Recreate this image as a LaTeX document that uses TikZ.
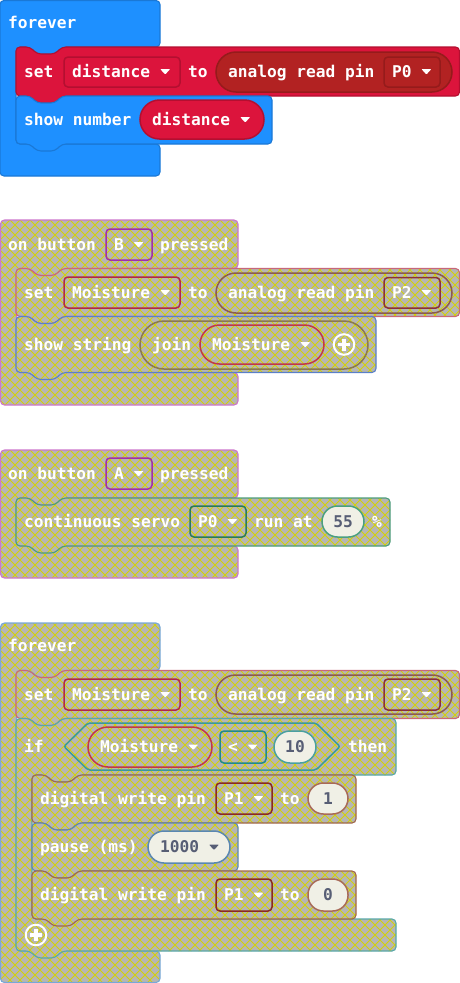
\documentclass[tikz,border=0pt]{standalone}
\usepackage{fontspec}
\newfontfamily\blockfont{DejaVu Sans Mono}

% block palette
\definecolor{evBlue}{HTML}{1E90FF}
\definecolor{evBlueEdge}{HTML}{1A78D6}
\definecolor{varRed}{HTML}{DC143C}
\definecolor{varRedEdge}{HTML}{B40F30}
\definecolor{pinRed}{HTML}{B22222}
\definecolor{pinRedEdge}{HTML}{951B1B}
% disabled look
\definecolor{disGray}{HTML}{B6B6B4}
\definecolor{disLine}{HTML}{D4D00A}
\definecolor{hatEdge}{HTML}{CC77CC}
\definecolor{setEdge}{HTML}{C86878}
\definecolor{strEdge}{HTML}{5B80C8}
\definecolor{servoEdge}{HTML}{4C9C7C}
\definecolor{loopEdge}{HTML}{78A8D8}
\definecolor{ifEdge}{HTML}{58A8A8}
\definecolor{dwEdge}{HTML}{A0684C}
\definecolor{pauseEdge}{HTML}{5C88B0}
\definecolor{ddPurple}{HTML}{A030A8}
\definecolor{ddRed}{HTML}{B02848}
\definecolor{repBrown}{HTML}{8C5A50}
\definecolor{ddDarkRed}{HTML}{8A3038}
\definecolor{joinEdge}{HTML}{8A7850}
\definecolor{varEdge}{HTML}{C03848}
\definecolor{ddGreen}{HTML}{2A7A5A}
\definecolor{numTeal}{HTML}{4AA080}
\definecolor{hexEdge}{HTML}{3A9A9A}
\definecolor{ddTeal}{HTML}{208A8A}
\definecolor{numTeal2}{HTML}{4AA0A0}
\definecolor{ddBrown}{HTML}{8A2A22}
\definecolor{numBrown}{HTML}{A86A58}
\definecolor{numBlue}{HTML}{5A88B0}
\definecolor{ovalFill}{HTML}{F0F0E6}
\definecolor{numText}{HTML}{575E75}

% diagonal cross-hatch on a 10pt grid, clipped to the current path
\newcommand\hatchfill{%
  \pgfpointanchor{path picture bounding box}{south west}\pgfgetlastxy{\hxa}{\hya}%
  \pgfpointanchor{path picture bounding box}{north east}\pgfgetlastxy{\hxb}{\hyb}%
  \pgfsetstrokecolor{disLine}\pgfsetlinewidth{0.8pt}%
  \pgfmathtruncatemacro\ka{floor((\hxa-\hyb)/10)-1}%
  \pgfmathtruncatemacro\kb{ceil((\hxb-\hya)/10)+1}%
  \foreach \k in {\ka,...,\kb}{%
    \pgfpathmoveto{\pgfpoint{10pt*\k+\hya}{\hya}}%
    \pgfpathlineto{\pgfpoint{10pt*\k+\hyb}{\hyb}}%
    \pgfusepath{stroke}}%
  \pgfmathtruncatemacro\ka{floor((\hxa+\hya)/10)-1}%
  \pgfmathtruncatemacro\kb{ceil((\hxb+\hyb)/10)+1}%
  \foreach \k in {\ka,...,\kb}{%
    \pgfpathmoveto{\pgfpoint{10pt*\k-\hya}{\hya}}%
    \pgfpathlineto{\pgfpoint{10pt*\k-\hyb}{\hyb}}%
    \pgfusepath{stroke}}%
}

\tikzset{
  lbl/.style={anchor=mid west, inner sep=0pt, text=white, yshift=-3.5pt,
    font=\blockfont\bfseries\fontsize{16.2}{18}\selectfont},
  num/.style={anchor=mid, inner sep=0pt, text=numText, yshift=-3.5pt,
    font=\blockfont\bfseries\fontsize{16.2}{18}\selectfont},
  blk/.style={rounded corners=4pt, line width=1.1pt},
  dis/.style={fill=disGray, path picture={\hatchfill}},
  fld/.style={line width=1.5pt},
}

% statement block: notch on top, tab below
\newcommand\stmt[5]{%
  \path[blk,#1] (#2,#3) -- (#2+14,#3) -- (#2+21,#3+7) -- (#2+39,#3+7) -- (#2+46,#3)
    -- (#4,#3) -- (#4,#5) -- (#2+46,#5) -- (#2+39,#5+7) -- (#2+21,#5+7)
    -- (#2+14,#5) -- (#2,#5) -- cycle;}
% event/loop C-block without notch or tab
\newcommand\hatC[8]{%
  \path[blk,#1] (#2,#3) -- (#2+#4,#3) -- (#2+#4,#5) -- (#2+62,#5) -- (#2+55,#5+7)
    -- (#2+37,#5+7) -- (#2+30,#5) -- (#2+16,#5) -- (#2+16,#6) -- (#2+#7,#6)
    -- (#2+#7,#8) -- (#2,#8) -- cycle;}
% statement C-block (if): notch on top, tab inside and below
\newcommand\stmtC[8]{%
  \path[blk,#1] (#2,#3) -- (#2+14,#3) -- (#2+21,#3+7) -- (#2+39,#3+7) -- (#2+46,#3)
    -- (#2+#4,#3) -- (#2+#4,#5) -- (#2+62,#5) -- (#2+55,#5+7)
    -- (#2+37,#5+7) -- (#2+30,#5) -- (#2+16,#5) -- (#2+16,#6) -- (#2+#7,#6)
    -- (#2+#7,#8) -- (#2+46,#8) -- (#2+39,#8+7) -- (#2+21,#8+7) -- (#2+14,#8)
    -- (#2,#8) -- cycle;}
% dropdown box and oval field
\newcommand\ddbox[5]{\path[fld,rounded corners=4pt,#1] (#2,#3) rectangle (#4,#5);}
\newcommand\ovalfield[6]{\path[fld,rounded corners=#6pt,#1] (#2,#3) rectangle (#4,#5);}
% dropdown arrow
\newcommand\ddarrow[3]{\fill[#3,rounded corners=0.8pt] (#1-5,#2-2.5) -- (#1+5,#2-2.5) -- (#1,#2+3) -- cycle;}
% add-item button
\newcommand\plusicon[2]{%
  \draw[white,line width=2pt] (#1,#2) circle (10.3);
  \draw[white,line width=3.6pt] (#1-6,#2) -- (#1+6,#2) (#1,#2-6) -- (#1,#2+6);}

\begin{document}
\begin{tikzpicture}[x=1pt,y=-1pt]
\useasboundingbox (0,0) rectangle (460,983);

% ---------- forever: show distance ----------
\hatC{fill=evBlue,draw=evBlueEdge}{0}{0.5}{160}{47}{144}{160}{176}
\stmt{fill=varRed,draw=varRedEdge}{16}{47}{459.5}{96}
\stmt{fill=evBlue,draw=evBlueEdge}{16}{96}{272}{144}
\node[lbl] (f1) at (8,23) {forever};
\node[lbl] (set1) at (24,71.5) {set};
\ddbox{fill=varRed,draw=varRedEdge}{64}{57}{180}{87}
\node[lbl] (var1) at (72,71.5) {distance};
\ddarrow{165.2}{71.5}{white}
\node[lbl] (to1) at (188,71.5) {to};
\ovalfield{fill=pinRed,draw=pinRedEdge}{216}{52}{452}{92}{20}
\node[lbl] (ar1) at (228,71.5) {analog read pin};
\ddbox{fill=pinRed,draw=pinRedEdge}{384}{57}{440}{87}
\node[lbl] (pin1) at (392,71.5) {P0};
\ddarrow{426.4}{71.5}{white}
\node[lbl] (sn1) at (24,119.5) {show number};
\ovalfield{fill=varRed,draw=varRedEdge}{140}{100}{264}{139}{19.5}
\node[lbl] (var2) at (152,119.5) {distance};
\ddarrow{245.2}{119.5}{white}

% ---------- on button B pressed ----------
\hatC{dis,draw=hatEdge}{0.5}{220}{237.5}{268.5}{372.5}{237.5}{405}
\stmt{dis,draw=setEdge}{16}{268.5}{459.5}{316.5}
\stmt{dis,draw=strEdge}{16}{316.5}{376}{372.5}
\node[lbl] (ob1) at (8,244.5) {on button};
\ddbox{dis,draw=ddPurple}{106}{229}{152}{260}
\node[lbl] (btnB) at (114,244.5) {B};
\ddarrow{138.6}{244.5}{white}
\node[lbl] (pr1) at (160,244.5) {pressed};
\node[lbl] (set2) at (24,292.5) {set};
\ddbox{dis,draw=ddRed}{64}{277}{180}{308}
\node[lbl] (var3) at (72,292.5) {Moisture};
\ddarrow{165.2}{292.5}{white}
\node[lbl] (to2) at (188,292.5) {to};
\ovalfield{dis,draw=repBrown}{216}{273}{452}{313}{20}
\node[lbl] (ar2) at (228,292.5) {analog read pin};
\ddbox{dis,draw=ddDarkRed}{384}{277.5}{440}{308}
\node[lbl] (pin2) at (392,292.5) {P2};
\ddarrow{426.4}{292.5}{white}
\node[lbl] (ss1) at (24,344.5) {show string};
\ovalfield{dis,draw=joinEdge}{140}{321}{368}{369}{24}
\node[lbl] (join1) at (152,344.5) {join};
\ovalfield{dis,draw=varEdge}{200}{325}{324}{364}{19.5}
\node[lbl] (var4) at (212,344.5) {Moisture};
\ddarrow{305.2}{344.5}{white}
\plusicon{344}{344.5}

% ---------- on button A pressed ----------
\hatC{dis,draw=hatEdge}{0.5}{450}{237.5}{498}{546}{237.5}{578}
\stmt{dis,draw=servoEdge}{16}{498}{390}{546}
\node[lbl] (ob2) at (8,473.5) {on button};
\ddbox{dis,draw=ddPurple}{106}{458}{152}{489}
\node[lbl] (btnA) at (114,473.5) {A};
\ddarrow{138.6}{473.5}{white}
\node[lbl] (pr2) at (160,473.5) {pressed};
\node[lbl] (cs1) at (24,521.5) {continuous servo};
\ddbox{dis,draw=ddGreen}{190}{506}{246}{537}
\node[lbl] (pin3) at (198,521.5) {P0};
\ddarrow{232.4}{521.5}{white}
\node[lbl] (run1) at (254,521.5) {run at};
\ovalfield{fill=ovalFill,draw=numTeal}{322}{506}{364}{537}{15.5}
\node[num] (speed) at (343,521.5) {55};
\node[lbl] (pct) at (372,521.5) {\%};

% ---------- forever: moisture check ----------
\hatC{dis,draw=loopEdge}{0.5}{623}{159.5}{670.5}{951}{159.5}{982.5}
\stmt{dis,draw=setEdge}{16}{670.5}{459.5}{718.5}
\node[lbl] (f2) at (8,646) {forever};
\node[lbl] (set3) at (24,694.5) {set};
\ddbox{dis,draw=ddRed}{64}{679}{180}{710}
\node[lbl] (var5) at (72,694.5) {Moisture};
\ddarrow{165.2}{694.5}{white}
\node[lbl] (to3) at (188,694.5) {to};
\ovalfield{dis,draw=repBrown}{216}{675}{452}{714}{19.5}
\node[lbl] (ar3) at (228,694.5) {analog read pin};
\ddbox{dis,draw=ddDarkRed}{384}{679}{440}{710}
\node[lbl] (pin4) at (392,694.5) {P2};
\ddarrow{426.4}{694.5}{white}

\stmtC{dis,draw=ifEdge}{16}{718.5}{380}{775}{919}{380}{951}
\node[lbl] (if1) at (24,747) {if};
\path[fld,dis,draw=hexEdge,rounded corners=2pt]
  (64,746.5) -- (88,723) -- (316,723) -- (340,746.5) -- (316,770) -- (88,770) -- cycle;
\ovalfield{dis,draw=varEdge}{88}{727}{212}{767}{20}
\node[lbl] (var6) at (100,747) {Moisture};
\ddarrow{193.2}{747}{white}
\ddbox{dis,draw=ddTeal}{220}{731}{266}{763}
\node[lbl] (cmp) at (228,747) {<};
\ddarrow{252.6}{747}{white}
\ovalfield{fill=ovalFill,draw=numTeal2}{274}{731}{316}{763}{16}
\node[num] (lim) at (295,747) {10};
\node[lbl] (then1) at (348,747) {then};

\stmt{dis,draw=dwEdge}{32}{775}{356}{823}
\node[lbl] (dw1) at (40,798.5) {digital write pin};
\ddbox{dis,draw=ddBrown}{216}{783}{272}{814}
\node[lbl] (pin5) at (224,798.5) {P1};
\ddarrow{258.4}{798.5}{white}
\node[lbl] (to4) at (280,798.5) {to};
\ovalfield{fill=ovalFill,draw=numBrown}{308}{783}{348}{814}{15.5}
\node[num] (hi) at (328,798.5) {1};

\stmt{dis,draw=pauseEdge}{32}{823}{238}{871}
\node[lbl] (ps1) at (40,847) {pause (ms)};
\ovalfield{fill=ovalFill,draw=numBlue}{148}{831}{230}{863}{16}
\node[num,anchor=mid west] (ms) at (160,847) {1000};
\ddarrow{214}{847}{numText}

\stmt{dis,draw=dwEdge}{32}{871}{356}{919}
\node[lbl] (dw2) at (40,895) {digital write pin};
\ddbox{dis,draw=ddBrown}{216}{879}{272}{911}
\node[lbl] (pin6) at (224,895) {P1};
\ddarrow{258.4}{895}{white}
\node[lbl] (to5) at (280,895) {to};
\ovalfield{fill=ovalFill,draw=numBrown}{308}{879}{348}{911}{15.5}
\node[num] (lo) at (328,895) {0};

\plusicon{36}{935}
\end{tikzpicture}
\end{document}
